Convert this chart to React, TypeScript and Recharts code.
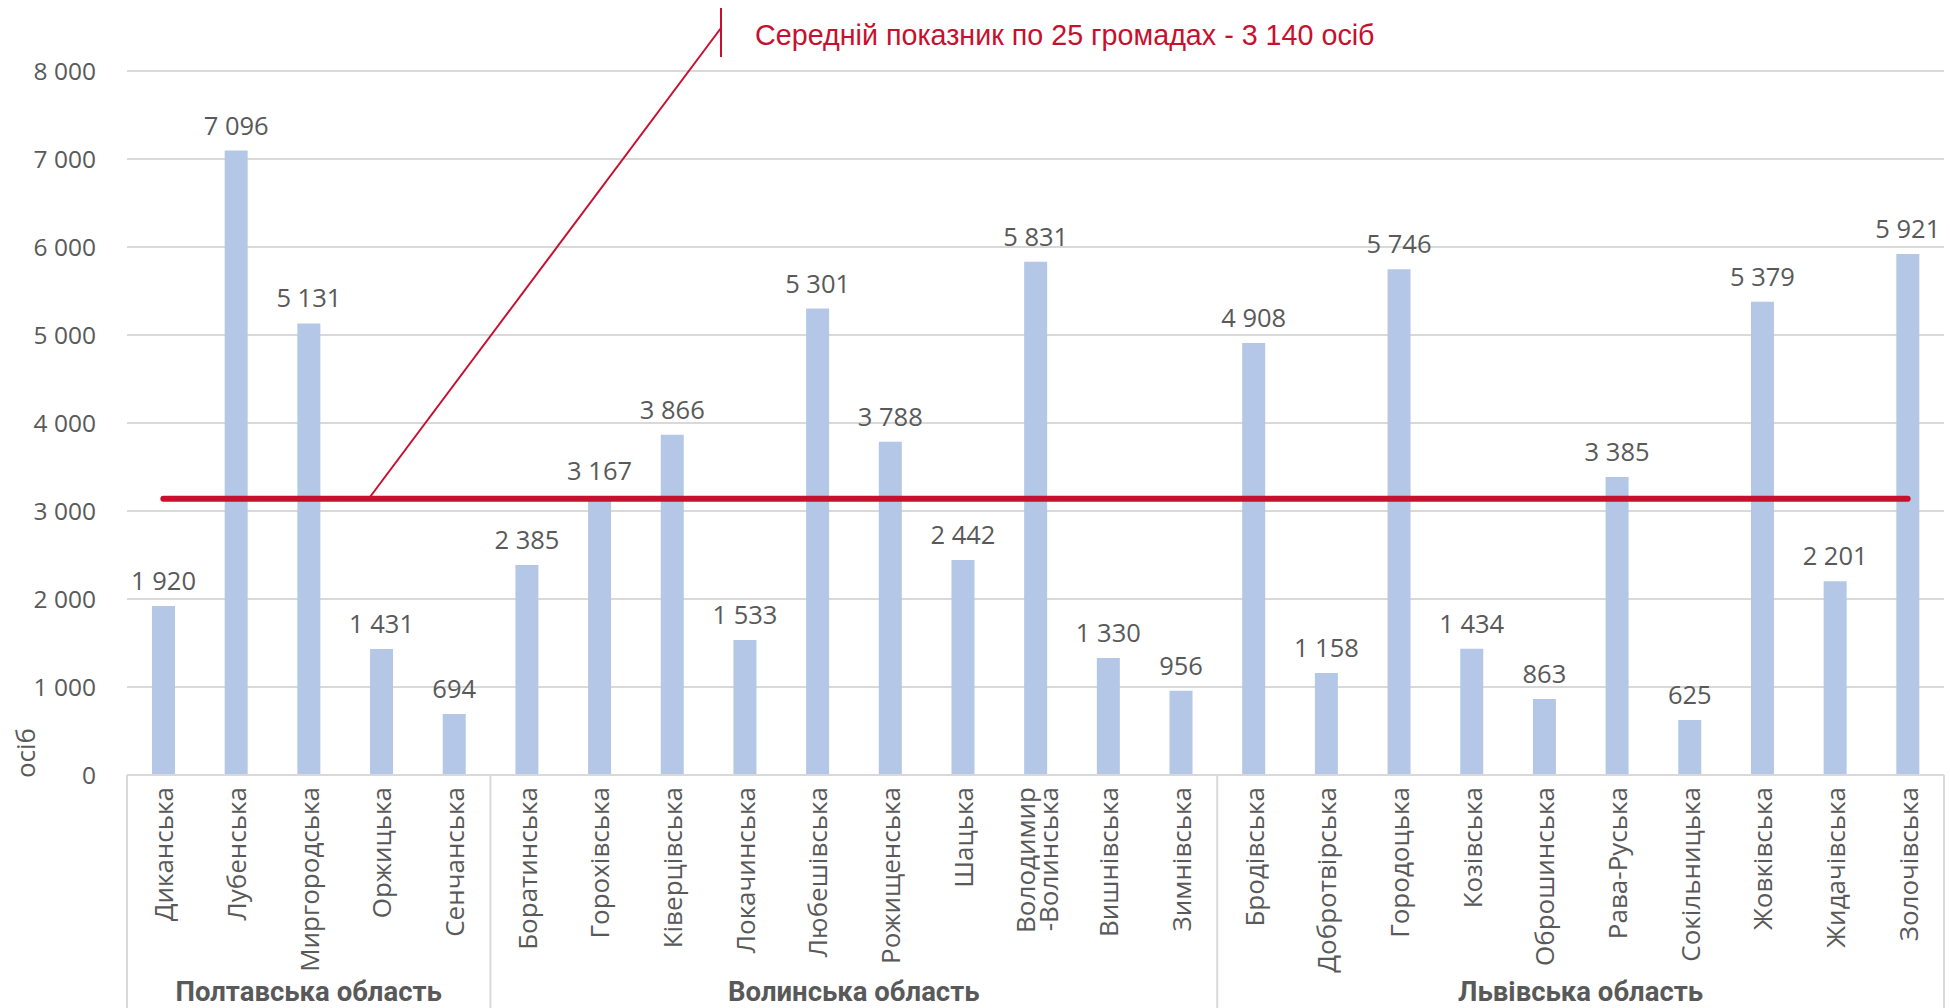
import React from 'react'
import { ComposedChart, Bar, Line, XAxis, YAxis, CartesianGrid, LabelList } from 'recharts'

const CATEGORIES = [
  'Диканська', 'Лубенська', 'Миргородська', 'Оржицька', 'Сенчанська',
  'Боратинська', 'Горохівська', 'Ківерцівська', 'Локачинська', 'Любешівська',
  'Рожищенська', 'Шацька', 'Володимир\n-Волинська', 'Вишнівська', 'Зимнівська',
  'Бродівська', 'Добротвірська', 'Городоцька', 'Козівська', 'Оброшинська',
  'Рава-Руська', 'Сокільницька', 'Жовківська', 'Жидачівська', 'Золочівська',
]
const VALUES = [
  1920, 7096, 5131, 1431, 694,
  2385, 3167, 3866, 1533, 5301, 3788, 2442, 5831, 1330, 956,
  4908, 1158, 5746, 1434, 863, 3385, 625, 5379, 2201, 5921,
]
const GROUPS = ['Полтавська область', 'Волинська область', 'Львівська область']
const GROUP_SIZES = [5, 10, 10]
const AVERAGE = 3140
const Y_TICKS = [0, 1000, 2000, 3000, 4000, 5000, 6000, 7000, 8000]

const W = 1950
const H = 1008
const M = { top: 71, right: 6, left: 0, bottom: 0 }
const Y_W = 127
const X_H = 233
const PLOT_W = W - Y_W - M.right
const BAND = PLOT_W / CATEGORIES.length

const GRAY = '#595959'
const LINE_GRAY = '#d9d9d9'
const RED = '#C8102E'
const FONT = '"Open Sans", sans-serif'

const data = CATEGORIES.map((name, i) => ({ name, value: VALUES[i], avg: AVERAGE }))

// where each region starts on the category axis
const groupStarts = GROUP_SIZES.map((_, g) => GROUP_SIZES.slice(0, g).reduce((a, b) => a + b, 0))

// thousands with a non-breaking space so labels don't wrap
const fmt = (v: number) => String(v).replace(/\B(?=(\d{3})+(?!\d))/g, '\u00A0')

function CategoryTick(props: any) {
  const { x, y, payload, index } = props
  const lines = String(payload.value).split('\n')
  const left = x - BAND / 2
  const g = groupStarts.indexOf(index)
  return (
    <g>
      <text
        transform={`translate(${x - (lines.length - 1) * 11},${y + 12}) rotate(-90)`}
        textAnchor="end"
        dominantBaseline="central"
        fill={GRAY}
        fontSize={26}
        fontFamily={FONT}
      >
        {lines.map((l, i) => (
          <tspan key={i} x={0} dy={i === 0 ? 0 : 23}>{l}</tspan>
        ))}
      </text>
      {g >= 0 && (
        <>
          <line x1={left} x2={left} y1={y} y2={H} stroke={LINE_GRAY} strokeWidth={2} />
          <text
            x={left + (GROUP_SIZES[g] * BAND) / 2}
            y={991}
            textAnchor="middle"
            dominantBaseline="central"
            fill={GRAY}
            fontSize={27.5}
            fontWeight="bold"
            fontFamily="Roboto, sans-serif"
          >
            {GROUPS[g]}
          </text>
        </>
      )}
      {index === CATEGORIES.length - 1 && (
        <line x1={x + BAND / 2} x2={x + BAND / 2} y1={y} y2={H} stroke={LINE_GRAY} strokeWidth={2} />
      )}
    </g>
  )
}

export default function App() {
  return (
    <div style={{ position: 'absolute', left: 0, top: 0, width: W, height: H, background: '#fff' }}>
      <ComposedChart width={W} height={H} data={data} margin={M}>
        <CartesianGrid vertical={false} stroke={LINE_GRAY} strokeWidth={2} />
        <XAxis
          dataKey="name"
          interval={0}
          height={X_H}
          tickLine={false}
          tickSize={0}
          tickMargin={0}
          axisLine={{ stroke: LINE_GRAY, strokeWidth: 2 }}
          tick={<CategoryTick />}
        />
        <YAxis
          width={Y_W}
          domain={[0, 8000]}
          ticks={Y_TICKS}
          tickFormatter={fmt}
          axisLine={false}
          tickLine={false}
          tickSize={0}
          tickMargin={31}
          tick={{ fill: GRAY, fontSize: 24.5, fontFamily: FONT }}
          label={{
            content: (p: any) => {
              const vb = p.viewBox || { x: 0, y: M.top, height: H - M.top - X_H }
              return (
                <text
                  transform={`translate(${vb.x + 25},${vb.y + vb.height - 22}) rotate(-90)`}
                  textAnchor="middle"
                  dominantBaseline="central"
                  fill={GRAY}
                  fontSize={26}
                  fontFamily={FONT}
                >
                  осіб
                </text>
              )
            },
          }}
        />
        <Bar dataKey="value" fill="#B4C7E7" barSize={23} isAnimationActive={false}>
          <LabelList dataKey="value" position="top" offset={16} formatter={(v: any) => fmt(Number(v))} fill={GRAY} fontSize={25.5} fontFamily={FONT} />
        </Bar>
        <Line dataKey="avg" stroke={RED} strokeWidth={6} strokeLinecap="round" dot={false} activeDot={false} isAnimationActive={false} />
      </ComposedChart>
      <svg width={W} height={H} style={{ position: 'absolute', left: 0, top: 0, pointerEvents: 'none' }}>
        <line x1={370} y1={497} x2={721} y2={28} stroke={RED} strokeWidth={2} />
        <line x1={721} y1={8} x2={721} y2={57} stroke={RED} strokeWidth={2} />
        <text x={755} y={35} dominantBaseline="central" fill={RED} fontSize={28.7} fontFamily='"Liberation Sans", Arial, sans-serif'>
          Середній показник по 25 громадах - 3 140 осіб
        </text>
      </svg>
    </div>
  )
}
